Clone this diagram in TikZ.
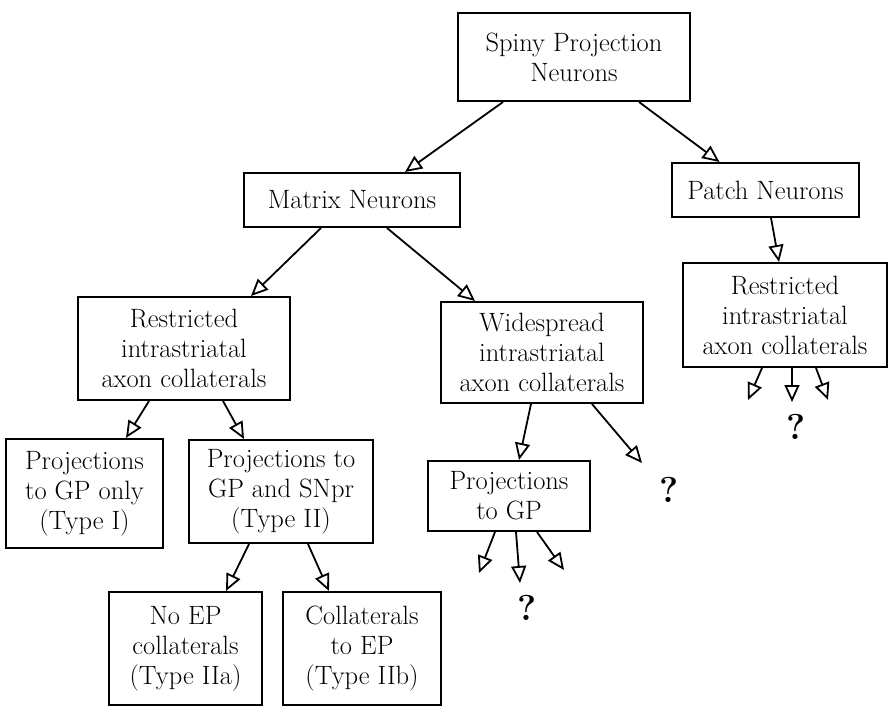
\documentclass[tikz,border=0pt]{standalone}
\usetikzlibrary{arrows.meta}
\begin{document}
\begin{tikzpicture}[x=1pt,y=-1pt,
  box/.style={draw, line width=2pt, align=center, inner sep=0pt,
    font=\fontsize{26.5}{30}\selectfont},
  arr/.style={line width=1.8pt, -{Triangle[open,length=17pt,width=15pt]}},
  qm/.style={font=\fontsize{36}{36}\selectfont\bfseries, inner sep=0pt}]
\useasboundingbox (0,0) rectangle (889,707);
% boxes
\node[box, minimum width=232pt, minimum height=88pt]  (spiny)  at (574,57)    {Spiny Projection\\Neurons};
\node[box, minimum width=216pt, minimum height=54pt]  (matrix) at (352,200)   {Matrix Neurons};
\node[box, minimum width=187pt, minimum height=54pt]  (patch)  at (765.5,190) {Patch Neurons};
\node[box, minimum width=212pt, minimum height=103pt] (rl)     at (184,348.5) {Restricted\\intrastriatal\\axon collaterals};
\node[box, minimum width=202pt, minimum height=101pt] (wide)   at (542,352.5) {Widespread\\intrastriatal\\axon collaterals};
\node[box, minimum width=204pt, minimum height=104pt] (rr)     at (785,315)   {Restricted\\intrastriatal\\axon collaterals};
\node[box, minimum width=157pt, minimum height=109pt] (gponly) at (84.5,493.5){Projections\\to GP only\\(Type I)};
\node[box, minimum width=184pt, minimum height=103pt] (gpsn)   at (281,491.5) {Projections to\\GP and SNpr\\(Type II)};
\node[box, minimum width=162pt, minimum height=70pt]  (projgp) at (509,496)   {Projections\\to GP};
\node[box, minimum width=153pt, minimum height=113pt] (noep)   at (185.5,648.5){No EP\\collaterals\\(Type IIa)};
\node[box, minimum width=158pt, minimum height=113pt] (collep) at (362,648.5) {Collaterals\\to EP\\(Type IIb)};
% question marks
\node[qm] (q1) at (669,490) {?};
\node[qm] (q2) at (527,608) {?};
\node[qm] (q3) at (796,427) {?};
% free ends
\coordinate (wq)  at (642,463);
\coordinate (g1)  at (479,573);
\coordinate (g2)  at (520,583);
\coordinate (g3)  at (564,570);
\coordinate (r1)  at (748,400);
\coordinate (r2)  at (792,402);
\coordinate (r3)  at (828,400);
% connectors
\draw[arr] ([xshift=-71pt]spiny.south) -- ([xshift=53pt]matrix.north);
\draw[arr] ([xshift=65pt]spiny.south) -- ([xshift=-46pt]patch.north);
\draw[arr] ([xshift=5.5pt]patch.south) -- ([xshift=-6pt]rr.north);
\draw[arr] ([xshift=-31pt]matrix.south) -- ([xshift=67pt]rl.north);
\draw[arr] ([xshift=35pt]matrix.south) -- ([xshift=-67pt]wide.north);
\draw[arr] ([xshift=-35pt]rl.south) -- ([xshift=41.5pt]gponly.north);
\draw[arr] ([xshift=39pt]rl.south) -- ([xshift=-37pt]gpsn.north);
\draw[arr] ([xshift=-32pt]gpsn.south) -- ([xshift=40.5pt]noep.north);
\draw[arr] ([xshift=27pt]gpsn.south) -- ([xshift=-33pt]collep.north);
\draw[arr] ([xshift=-11pt]wide.south) -- ([xshift=10pt]projgp.north);
\draw[arr] ([xshift=50pt]wide.south) -- (wq);
\draw[arr] ([xshift=-14pt]projgp.south) -- (g1);
\draw[arr] ([xshift=7pt]projgp.south) -- (g2);
\draw[arr] ([xshift=28pt]projgp.south) -- (g3);
\draw[arr] ([xshift=-23pt]rr.south) -- (r1);
\draw[arr] ([xshift=7pt]rr.south) -- (r2);
\draw[arr] ([xshift=31pt]rr.south) -- (r3);
\end{tikzpicture}
\end{document}
